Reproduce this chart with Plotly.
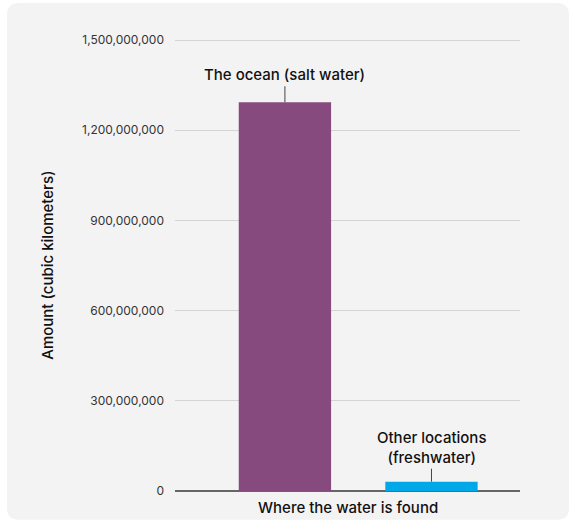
import plotly.graph_objects as go

# Where Earth's water is found (cubic kilometers)
categories = ["The ocean (salt water)", "Other locations (freshwater)"]
amounts = [1293000000, 31000000]
bar_colors = ["#874a7f", "#00a8e8"]
bar_labels = ["The ocean (salt water)", "Other locations<br>(freshwater)"]
tick_values = [0, 300000000, 600000000, 900000000, 1200000000, 1500000000]
tick_text = ["0", "300,000,000", "600,000,000", "900,000,000", "1,200,000,000", "1,500,000,000"]

FONT = "Inter, Roboto, sans-serif"
x_pos = list(range(len(categories)))

fig = go.Figure()
fig.add_trace(go.Bar(
    x=x_pos, y=amounts, marker=dict(color=bar_colors, line=dict(width=0)),
    width=0.63, hoverinfo="skip", showlegend=False,
))

# Rounded panel behind the chart (paper coords)
x0, x1, y0, y1 = -0.487, 1.142, -0.063, 1.068
rx, ry = 0.035, 0.026
path = (f"M {x0+rx},{y1} L {x1-rx},{y1} Q {x1},{y1} {x1},{y1-ry} "
        f"L {x1},{y0+ry} Q {x1},{y0} {x1-rx},{y0} L {x0+rx},{y0} "
        f"Q {x0},{y0} {x0},{y0+ry} L {x0},{y1-ry} Q {x0},{y1} {x0+rx},{y1} Z")
fig.add_shape(type="path", path=path, xref="paper", yref="paper",
              fillcolor="#f4f3f4", line=dict(width=0), layer="below")

label_font = dict(family=FONT, size=15, color="#111", weight=500)

# Leader lines and bar labels
leader_len = [-16, -13]
for i, (val, lab) in enumerate(zip(amounts, bar_labels)):
    fig.add_annotation(
        x=i, y=val, xref="x", yref="y", text=lab, showarrow=True,
        arrowhead=0, arrowwidth=1, arrowcolor="#444", ax=0, ay=leader_len[i],
        yanchor="bottom", font=label_font, align="center",
    )

# Axis titles
fig.add_annotation(x=0.5, y=-0.012, xref="paper", yref="paper", text="Where the water is found",
                   showarrow=False, yanchor="top", xanchor="center", font=label_font)
fig.add_annotation(x=-0.368, y=0.493, xref="paper", yref="paper", text="Amount (cubic kilometers)",
                   showarrow=False, textangle=-90, xanchor="center", yanchor="middle",
                   font=label_font)

fig.update_layout(
    width=571, height=527,
    margin=dict(l=175, r=51, t=34, b=36),
    paper_bgcolor="white", plot_bgcolor="rgba(0,0,0,0)",
    font=dict(family=FONT),
    xaxis=dict(range=[-0.75, 1.604], showticklabels=False, showgrid=False,
               zeroline=False, showline=False, fixedrange=True),
    yaxis=dict(range=[0, 1520000000], tickvals=tick_values, ticktext=tick_text,
               showgrid=True, gridcolor="#d4d4d4", gridwidth=1,
               zeroline=True, zerolinecolor="#666", zerolinewidth=1.5,
               ticks="", ticklabelstandoff=10,
               tickfont=dict(family=FONT, size=12, color="#333"), fixedrange=True),
)

fig.write_html("out.html")
